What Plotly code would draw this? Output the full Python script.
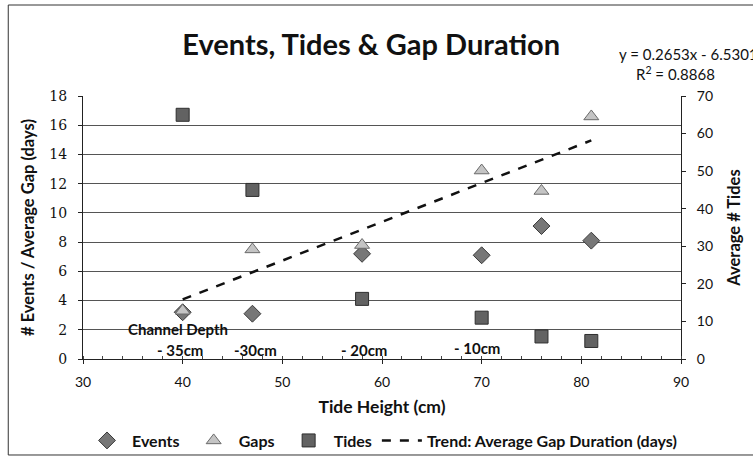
import plotly.graph_objects as go

# Tide height (cm) for each site
tide_height = [40, 47, 58, 70, 76, 81]
# Number of events and average gap duration (days) -> left axis
events = [3.2, 3.1, 7.2, 7.1, 9.1, 8.1]
gaps = [3.3, 7.5, 7.8, 12.9, 11.5, 16.6]
# Average number of tides -> right axis
tides = [65, 45, 16, 11, 6, 4.8]

# Linear trend of gap duration: y = 0.2653x - 6.5301 (R² = 0.8868)
trend_slope = 0.2653
trend_intercept = -6.5301
trend_x = [tide_height[0], tide_height[-1]]
trend_y = [trend_slope * x + trend_intercept for x in trend_x]

# Channel depth labels: (text, x, y in left-axis units)
depth_labels = [("Channel Depth", 39.5, 2.05), ("- 35cm", 39.7, 0.6), ("-30cm", 47.3, 0.6),
                ("- 20cm", 58.2, 0.6), ("- 10cm", 69.5, 0.75)]

FONT = "Lato, Open Sans, sans-serif"
PAD = "&nbsp;"

fig = go.Figure()
fig.add_trace(go.Scatter(
    x=tide_height, y=events, mode="markers", name="<b>Events</b>" + PAD,
    marker=dict(symbol="diamond", size=13, color="#777777",
                line=dict(color="#3a3a3a", width=1))))
fig.add_trace(go.Scatter(
    x=tide_height, y=gaps, mode="markers", name="<b>Gaps</b>" + PAD,
    marker=dict(symbol="triangle-up", size=13, color="#c4c4c4",
                line=dict(color="#6a6a6a", width=1))))
fig.add_trace(go.Scatter(
    x=tide_height, y=tides, mode="markers", name="<b>Tides</b>", yaxis="y2",
    marker=dict(symbol="square", size=13, color="#626262",
                line=dict(color="#2e2e2e", width=1))))
fig.add_trace(go.Scatter(
    x=trend_x, y=trend_y, mode="lines", name="<b>Trend: Average Gap Duration (days)</b>",
    line=dict(color="#111", width=2.5, dash="dash")))

for text, x, y in depth_labels:
    fig.add_annotation(x=x, y=y, xref="x", yref="y", text="<b>%s</b>" % text,
                       showarrow=False, font=dict(family=FONT, size=15, color="#111"))

fig.add_annotation(xref="paper", yref="paper", x=0.893, y=1.16, xanchor="left",
                   yanchor="middle", text="y = 0.2653x - 6.5301", showarrow=False,
                   font=dict(family=FONT, size=15, color="#111"))
fig.add_annotation(xref="paper", yref="paper", x=0.99, y=1.087, xanchor="center",
                   yanchor="middle", text="R<sup>2</sup> = 0.8868", showarrow=False,
                   font=dict(family=FONT, size=15, color="#111"))

# outer chart frame
fig.add_shape(type="rect", xref="paper", yref="paper", x0=-0.125, x1=1.14,
              y0=-0.365, y1=1.346, line=dict(color="#333", width=1))

fig.update_layout(
    width=753, height=460,
    margin=dict(l=83, r=72, t=96, b=101, autoexpand=False),
    paper_bgcolor="white", plot_bgcolor="white",
    font=dict(family=FONT, size=14, color="#111"),
    title=dict(text="<b>Events, Tides & Gap Duration</b>", x=0.493, xanchor="center",
               y=0.902, yanchor="middle", font=dict(family=FONT, size=29, color="#111")),
    xaxis=dict(range=[30, 90], dtick=10, showgrid=False, zeroline=False, automargin=False,
               showline=True, linecolor="#222", linewidth=1,
               ticks="outside", ticklen=4, tickcolor="#222", ticklabelstandoff=6,
               minor=dict(dtick=2, ticks="inside", ticklen=3, tickcolor="#444"),
               title=dict(text="<b>Tide Height (cm)</b>", font=dict(size=17.5), standoff=11),
               tickfont=dict(size=14)),
    yaxis=dict(range=[0, 18], dtick=2, showgrid=True, gridcolor="#555", gridwidth=1,
               zeroline=False, showline=True, linecolor="#222", linewidth=1, automargin=False,
               ticks="outside", ticklen=4, tickcolor="#222", ticklabelstandoff=8,
               title=dict(text="<b># Events / Average Gap (days)</b>", font=dict(size=16.5),
                          standoff=10),
               tickfont=dict(size=14, family="DejaVu Serif")),
    yaxis2=dict(range=[0, 70], dtick=10, overlaying="y", side="right", showgrid=False,
                zeroline=False, showline=True, linecolor="#222", linewidth=1, automargin=False,
                ticks="outside", ticklen=4, tickcolor="#222", ticklabelstandoff=8,
                title=dict(text="<b>Average # Tides</b>", font=dict(size=16.5), standoff=16),
                tickfont=dict(size=14)),
    legend=dict(orientation="h", x=0.5, xanchor="center", y=-0.31, yanchor="middle",
                font=dict(size=16, family=FONT), itemwidth=40,
                bgcolor="rgba(0,0,0,0)"),
    showlegend=True,
)

fig.write_html("out.html")
